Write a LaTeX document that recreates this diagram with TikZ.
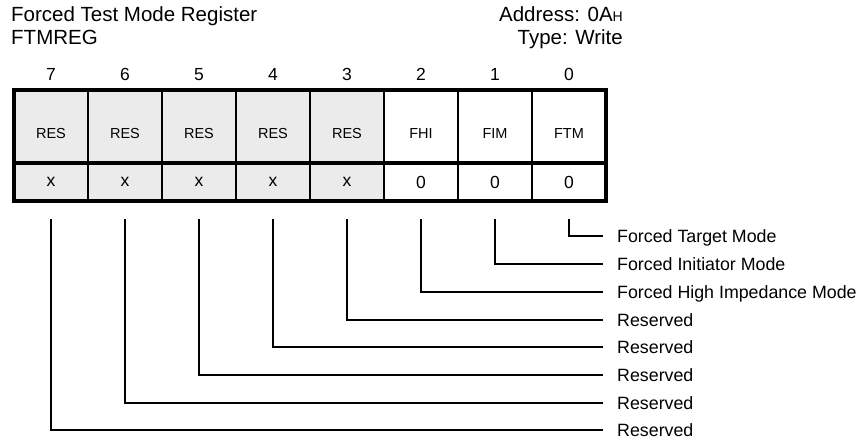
\documentclass[tikz,border=0pt]{standalone}
\usepackage{fontspec}
\setmainfont{Liberation Sans}
\usetikzlibrary{positioning}
\definecolor{resgray}{RGB}{235,235,235}

\begin{document}
\begin{tikzpicture}[x=1pt,y=-1pt,
		field/.style={rectangle,draw,line width=1.3pt,outer sep=0pt,inner sep=0pt,
			minimum width=74pt,minimum height=73pt,text height=23.5pt,text depth=0pt,
			font=\fontsize{14.5}{16}\selectfont},
		value/.style={rectangle,draw,line width=1.3pt,outer sep=0pt,inner sep=0pt,
			minimum width=74pt,minimum height=38pt,font=\fontsize{17.5}{19}\selectfont},
		bitno/.style={inner sep=0pt,font=\fontsize{17.5}{19}\selectfont},
		head/.style={inner sep=0pt,font=\fontsize{20.5}{23}\selectfont},
		desc/.style={anchor=west,inner sep=0pt,text height=12pt,text depth=0pt,
			font=\fontsize{17.8}{19}\selectfont},
		wire/.style={line width=1.3pt,shorten >=14pt},
		frame/.style={line width=4pt}]
		
		\useasboundingbox (0,0) rectangle (860,441);
		
		% title block
		\node[head,anchor=base west] (title) at (11,22) {Forced Test Mode Register};
		\node[head,anchor=base west] (regname) at (11,45) {FTMREG};
		\node[head,anchor=base east] (addr) at (623,22) {Address: 0A{\fontsize{14}{14}\selectfont H}};
		\node[head,anchor=base east] (type) at (623,45) {Type: Write};
		
		% field names
		\node[field,fill=resgray] (f7) at (51,126.5) {RES};
		\node[field,fill=resgray] (f6) [right=0pt of f7] {RES};
		\node[field,fill=resgray] (f5) [right=0pt of f6] {RES};
		\node[field,fill=resgray] (f4) [right=0pt of f5] {RES};
		\node[field,fill=resgray] (f3) [right=0pt of f4] {RES};
		\node[field] (f2) [right=0pt of f3] {FHI};
		\node[field] (f1) [right=0pt of f2] {FIM};
		\node[field] (f0) [right=0pt of f1] {FTM};
		
		% reset values
		\node[value,fill=resgray] (v7) [below=0pt of f7] {x};
		\node[value,fill=resgray] (v6) [below=0pt of f6] {x};
		\node[value,fill=resgray] (v5) [below=0pt of f5] {x};
		\node[value,fill=resgray] (v4) [below=0pt of f4] {x};
		\node[value,fill=resgray] (v3) [below=0pt of f3] {x};
		\node[value] (v2) [below=0pt of f2] {0};
		\node[value] (v1) [below=0pt of f1] {0};
		\node[value] (v0) [below=0pt of f0] {0};
		
		\draw[frame] (f7.north west) rectangle (v0.south east);
		\draw[frame] (f7.south west) -- (f0.south east);
		
		% bit numbers
		\foreach \b in {0,...,7}
		\node[bitno] (n\b) [above=9pt of f\b] {\b};
		
		% descriptions
		\node[desc] (d0) at (617,236) {Forced Target Mode};
		\node[desc] (d1) at (617,264) {Forced Initiator Mode};
		\node[desc] (d2) at (617,292) {Forced High Impedance Mode};
		\node[desc] (d3) at (617,320) {Reserved};
		\node[desc] (d4) at (617,347) {Reserved};
		\node[desc] (d5) at (617,375) {Reserved};
		\node[desc] (d6) at (617,403) {Reserved};
		\node[desc] (d7) at (617,430) {Reserved};
		
		\foreach \b in {0,...,7}{
			\coordinate (t\b) at ([yshift=-18pt]v\b.south);
			\draw[wire] (t\b) |- (d\b.west);
		}
\end{tikzpicture}
\end{document}
